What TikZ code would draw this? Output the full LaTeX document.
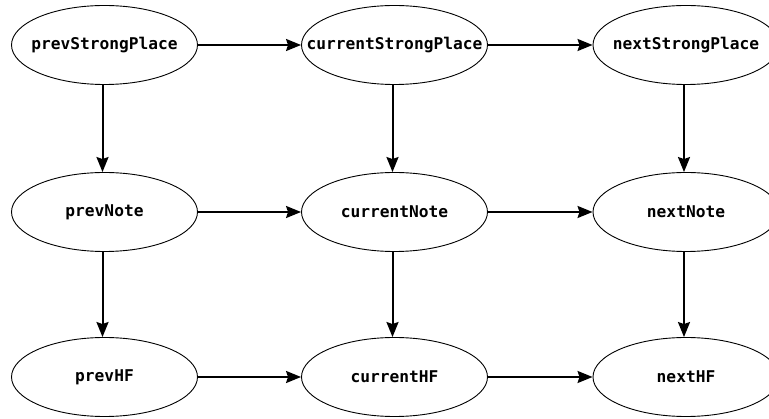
\documentclass[tikz,border=0pt]{standalone}
\usepackage{fontspec}
\setmonofont{DejaVu Sans Mono}
\usetikzlibrary{shapes.geometric,arrows.meta}
\newcommand\statelabel[1]{\makebox[0pt]{#1}}
\begin{document}
\begin{tikzpicture}[x=1pt,y=-1pt,
  state/.style={ellipse,draw,line width=0.9pt,minimum width=186pt,minimum height=79pt,
    inner sep=0pt,font=\ttfamily\bfseries\fontsize{16.2}{18}\selectfont},
  link/.style={line width=2pt,-{Stealth[length=15pt,width=12pt,inset=2pt]}}]
\useasboundingbox (0,0) rectangle (769,419);
\clip (0,0) rectangle (769,419);

% three columns (prev / current / next), three rows
\node[state] (psp) at (104.5,45)  {\statelabel{prevStrongPlace}};
\node[state] (csp) at (394.5,45)  {\statelabel{currentStrongPlace}};
\node[state] (nsp) at (686,45)    {\statelabel{nextStrongPlace}};
\node[state] (pn)  at (104.5,212) {\statelabel{prevNote}};
\node[state] (cn)  at (394.5,212) {\statelabel{currentNote}};
\node[state] (nn)  at (686,212)   {\statelabel{nextNote}};
\node[state] (ph)  at (104.5,377) {\statelabel{prevHF}};
\node[state] (ch)  at (394.5,377) {\statelabel{currentHF}};
\node[state] (nh)  at (686,377)   {\statelabel{nextHF}};

% horizontal links
\draw[link] (psp) -- (csp);
\draw[link] (csp) -- (nsp);
\draw[link] (pn) -- (cn);
\draw[link] (cn) -- (nn);
\draw[link] (ph) -- (ch);
\draw[link] (ch) -- (nh);

% vertical links
\foreach \a/\b in {psp/pn,pn/ph,csp/cn,cn/ch,nsp/nn,nn/nh}
  \draw[link] ([xshift=-2pt]\a.south) -- ([xshift=-2pt]\b.north);
\end{tikzpicture}
\end{document}
